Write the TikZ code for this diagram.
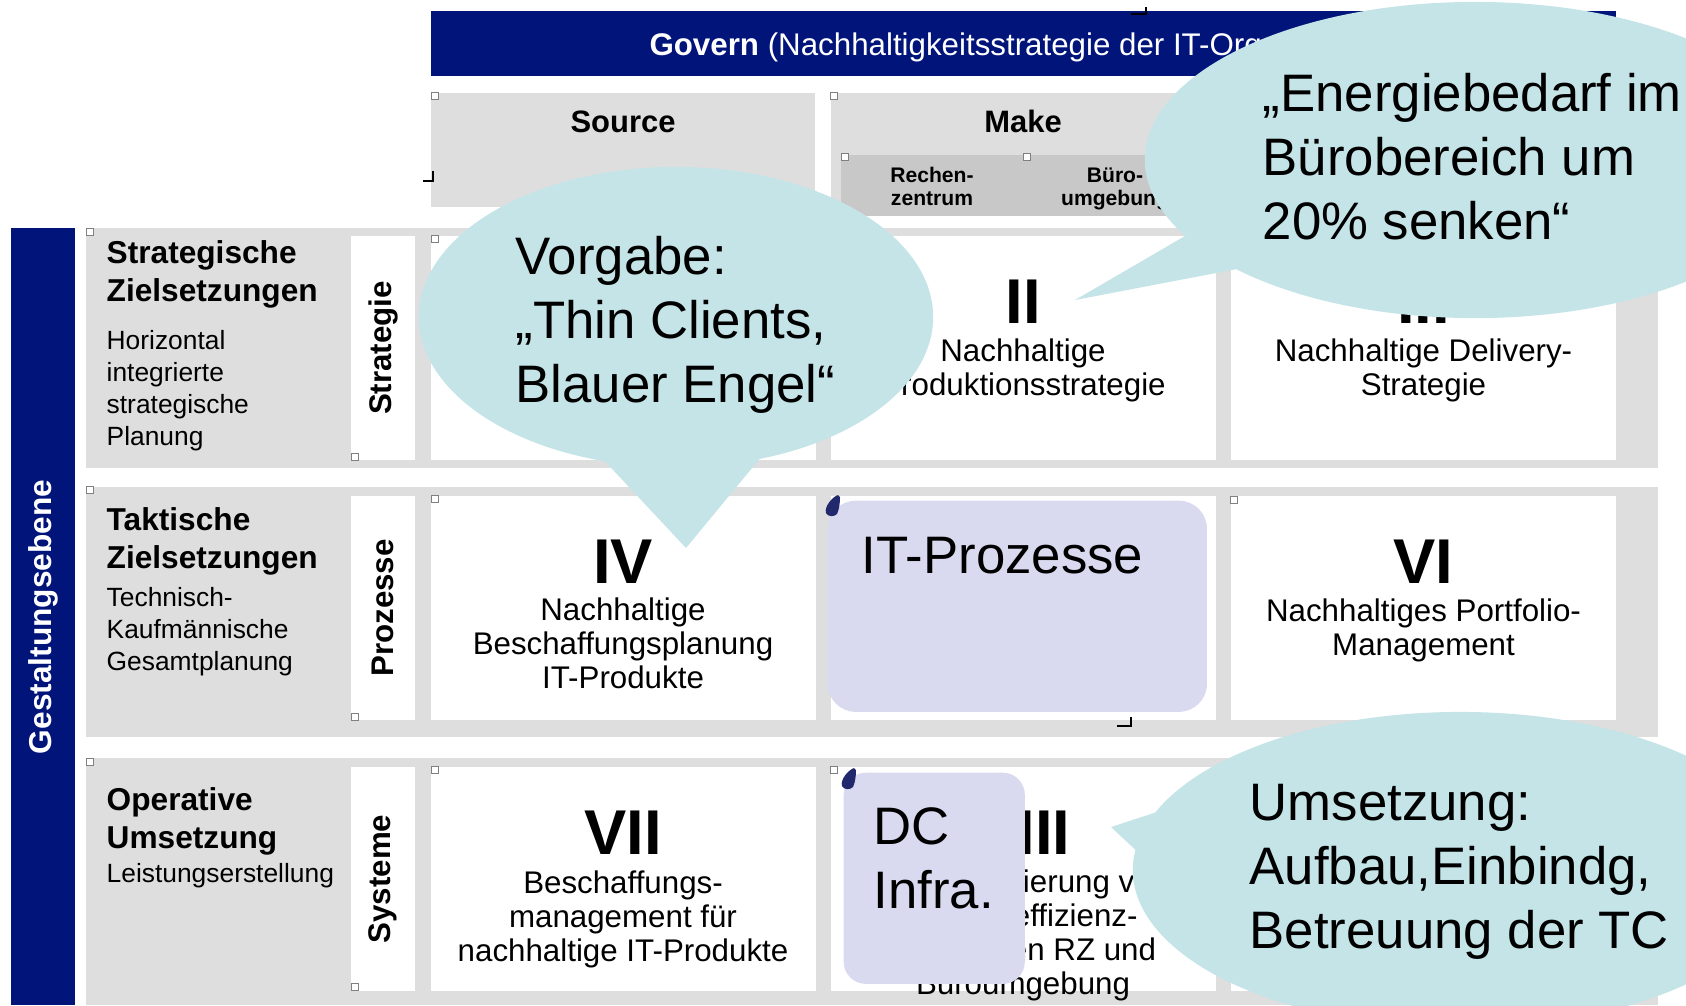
\documentclass[tikz,border=0pt]{standalone}
\usepackage{fontspec}
\setmainfont{Liberation Sans}
\usetikzlibrary{shapes.callouts}

\definecolor{govblue}{RGB}{0,20,122}
\definecolor{bandgray}{RGB}{222,222,222}
\definecolor{subgray}{RGB}{200,200,200}
\definecolor{bubblecol}{RGB}{197,228,232}
\definecolor{lavendercol}{RGB}{217,217,240}
\definecolor{dropblue}{RGB}{33,40,108}

\tikzset{
  headtext/.style={font=\bfseries\fontsize{8.8}{10}\selectfont, inner sep=0, anchor=base},
  subtext/.style={font=\bfseries\fontsize{6}{6.3}\selectfont, align=center, inner sep=0, anchor=base},
  ztitle/.style={font=\bfseries\fontsize{9}{10.8}\selectfont, align=left, inner sep=0, anchor=base west},
  zsub/.style={font=\fontsize{7.5}{9.1}\selectfont, align=left, inner sep=0, anchor=base west},
  striptext/.style={font=\bfseries\fontsize{8.9}{10}\selectfont, rotate=90, inner sep=0},
  numeral/.style={font=\bfseries\fontsize{18}{20}\selectfont, inner sep=0, anchor=base},
  celltext/.style={font=\fontsize{8.9}{9.6}\selectfont, align=center, inner sep=0, anchor=base},
  procbox/.style={fill=lavendercol, draw=none, rounded corners=0.28cm, inner sep=0, anchor=north west},
  bubble/.style={ellipse callout, fill=bubblecol, draw=none, inner sep=0, outer sep=0},
  bigtext/.style={font=\fontsize{15}{18.2}\selectfont, align=left, inner sep=0, anchor=base west},
  handle/.style={draw=gray, fill=white, line width=0.45pt, inner sep=0, minimum size=2pt},
  cornermark/.style={black, line width=0.6pt}
}

\begin{document}
\begin{tikzpicture}[x=0.01cm, y=-0.01cm]
    \useasboundingbox (0,0) rectangle (1686,1005);
    \clip (0,0) rectangle (1686,1005);

    \fill[govblue] (431,11) rectangle (1616,76);
    \node[headtext, text=white, font=\fontsize{8.9}{10}\selectfont] (govern) at (1023.5,55)
        {\textbf{Govern} (Nachhaltigkeitsstrategie der IT-Organisation)};

    \fill[bandgray] (431,93) rectangle (815,207);
    \fill[bandgray] (831,93) rectangle (1215,216);
    \fill[bandgray] (1231,93) rectangle (1616,207);
    \fill[subgray] (841,155) rectangle (1205,216);
    \node[headtext] (source) at (623,132) {Source};
    \node[headtext] (make) at (1023,132) {Make};
    \node[subtext] (rz) at (932,205) {Rechen-\\zentrum};
    \node[subtext] (buero) at (1115,205) {Büro-\\umgebung};

    \fill[govblue] (11,228) rectangle (75,1005);
    \node[striptext, text=white, font=\bfseries\fontsize{9}{10}\selectfont] (gestalt) at (43,617) {Gestaltungsebene};

    \foreach \top/\bot/\ctop in {228/468/236, 487/737/496, 758/1005/767} {
        \fill[bandgray] (86,\top) rectangle (1658,\bot);
        \fill[white] (351,\ctop) rectangle +(64,224);
        \foreach \cx in {431,831,1231}
            \fill[white] (\cx,\ctop) rectangle +(385,224);
    }

    \node[ztitle] (stratT) at (106,301) {Strategische\\Zielsetzungen};
    \node[zsub] (stratS) at (106,445) {Horizontal\\integrierte\\strategische\\Planung};
    \node[ztitle] (taktT) at (106,568) {Taktische\\Zielsetzungen};
    \node[zsub] (taktS) at (106,670) {Technisch-\\Kaufmännische\\Gesamtplanung};
    \node[ztitle] (operT) at (106,848) {Operative\\Umsetzung};
    \node[zsub] (operS) at (106,882) {Leistungserstellung};

    \node[striptext] (strategie) at (383,348) {Strategie};
    \node[striptext] (prozesse) at (383,608) {Prozesse};
    \node[striptext] (systeme) at (383,879) {Systeme};

    \node[numeral] (n2) at (1023,323) {II};
    \node[celltext] (t2) at (1023,395) {Nachhaltige\\Produktionsstrategie};
    \node[numeral] (n3) at (1423.5,323) {III};
    \node[celltext] (t3) at (1423.5,395) {Nachhaltige Delivery-\\Strategie};

    \node[numeral] (n4) at (623,583) {IV};
    \node[celltext] (t4) at (623,688) {Nachhaltige\\Beschaffungsplanung\\IT-Produkte};
    \node[numeral] (n6) at (1423.5,583) {VI};
    \node[celltext] (t6) at (1423.5,655) {Nachhaltiges Portfolio-\\Management};

    \node[numeral] (n7) at (623,854) {VII};
    \node[celltext] (t7) at (623,961) {Beschaffungs-\\management für\\nachhaltige IT-Produkte};
    \node[numeral] (n8) at (1023,854) {VIII};
    \node[celltext] (t8) at (1023,994) {Implementierung von\\energieeffizienz-\\optimierten RZ und\\Büroumgebung};

    \foreach \hx/\hy [count=\i] in {435/96, 834/96, 845/157, 1027/157, 90/232, 435/239, 355/457,
        90/490, 435/499, 355/717, 90/762, 435/770, 834/770, 1234/500, 355/987}
        \node[handle] (h\i) at (\hx,\hy) {};

    \draw[cornermark] (423,181) -- (433,181) -- (433,171);
    \draw[cornermark] (1131,14) -- (1146,14) -- (1146,7);
    \draw[cornermark] (1117,726) -- (1131,726) -- (1131,717);

    \node[procbox, minimum width=3.79cm, minimum height=2.11cm] (itproc) at (827,500) {};
    \node[bigtext] (itproctext) at (861,573) {IT-Prozesse};
    \node[procbox, minimum width=1.81cm, minimum height=2.11cm, rounded corners=0.22cm] (dcinfra) at (843,772) {};
    \node[bigtext] (dcinfratext) at (873,908) {DC\\Infra.};

    \foreach \dx/\dy in {0/0, 16/273}
        \fill[dropblue, shift={(\dx,\dy)}] (826,513) .. controls (824,507) and (832,497) .. (838,495)
            -- (840,497) .. controls (840,503) and (839,510) .. (837,514)
            .. controls (834,517) and (828,517) .. cycle;

    \coordinate (tipA) at (686,548);
    \coordinate (tipB) at (1075,300);
    \coordinate (tipC) at (1111,827);

    \node[bubble, minimum width=5.14cm, minimum height=3cm,
        callout absolute pointer={(tipA)}, callout pointer arc=35] (vorgabe) at (676,317) {};
    \node[bigtext] (vorgabetext) at (515,402) {Vorgabe:\\„Thin Clients,\\Blauer Engel“};

    \node[bubble, minimum width=6.6cm, minimum height=3.16cm,
        callout absolute pointer={(tipB)}, callout pointer arc=15] (energie) at (1475,160) {};
    \node[bigtext] (energietext) at (1262,239) {„Energiebedarf im\\Bürobereich um\\20\% senken“};

    \node[bubble, minimum width=6.54cm, minimum height=3.16cm,
        callout absolute pointer={(tipC)}, callout pointer arc=14] (umsetzung) at (1460,870) {};
    \node[bigtext] (umsetzungtext) at (1249,948) {Umsetzung:\\Aufbau,Einbindg,\\Betreuung der TC};
\end{tikzpicture}
\end{document}
